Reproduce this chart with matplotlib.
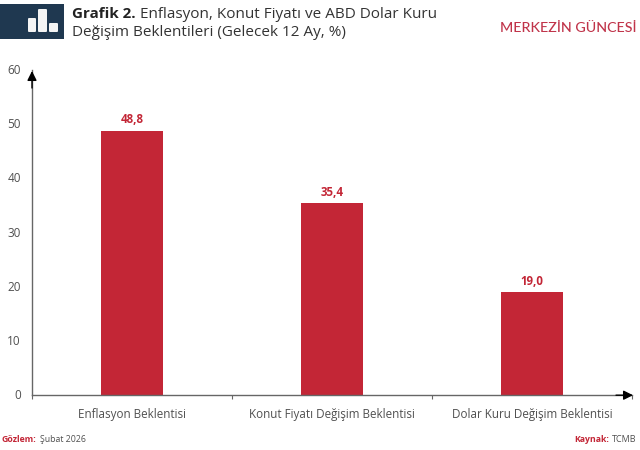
import matplotlib
matplotlib.use("Agg")
import matplotlib.pyplot as plt
from matplotlib.patches import Rectangle, FancyBboxPatch
from matplotlib.transforms import ScaledTranslation

categories = ["Enflasyon Beklentisi", "Konut Fiyatı Değişim Beklentisi", "Dolar Kuru Değişim Beklentisi"]
values = [48.8, 35.4, 19.0]
value_labels = ["48,8", "35,4", "19,0"]
yticks = [0, 10, 20, 30, 40, 50, 60]

W, H = 640, 450
plt.rcParams['font.family'] = ['Open Sans', 'DejaVu Sans']
RED = '#c32636'
GREY = '#505050'
NAVY = '#1f3850'

fig = plt.figure(figsize=(W/100, H/100), dpi=100, facecolor='white')
ax = fig.add_axes([32/W, (H-395.2)/H, 600/W, (395.2-70)/H])
ax.set_xlim(-0.5, 2.5)
ax.set_ylim(0, 60)
ax.bar(range(3), values, width=0.31, color=RED, zorder=2)
for i, (v, t) in enumerate(zip(values, value_labels)):
    ax.annotate(t, (i, v), xytext=(0, 3.3), textcoords='offset points', ha='center', va='bottom',
                color=RED, fontsize=8.3, fontweight='bold')
for s in ('top', 'right'):
    ax.spines[s].set_visible(False)
for s in ('left', 'bottom'):
    ax.spines[s].set_color('#666666')
    ax.spines[s].set_linewidth(1.0)
ax.set_yticks(yticks)
ax.tick_params(axis='y', length=0, pad=8, labelsize=8.5, labelcolor=GREY)
for lab in ax.get_yticklabels():
    lab.set_transform(lab.get_transform() + ScaledTranslation(0, 1/100, fig.dpi_scale_trans))
ax.set_xticks([-0.5, 0.5, 1.5, 2.5])
ax.set_xticklabels([])
ax.tick_params(axis='x', which='major', length=3, color='#666666')
ax.set_xticks(range(3), minor=True)
ax.set_xticklabels(categories, minor=True)
ax.tick_params(axis='x', which='minor', length=0, pad=9, labelsize=8.4, labelcolor=GREY)
ax.annotate('', xy=(32/W, (H-71)/H), xytext=(32/W, (H-88)/H), xycoords='figure fraction',
            arrowprops=dict(arrowstyle='-|>', color='black', lw=1, mutation_scale=14, shrinkA=0, shrinkB=0))
ax.annotate('', xy=(633/W, (H-395.2)/H), xytext=(616/W, (H-395.2)/H), xycoords='figure fraction',
            arrowprops=dict(arrowstyle='-|>', color='black', lw=1, mutation_scale=14, shrinkA=0, shrinkB=0))

# header
fig.add_artist(Rectangle((0, (H-39)/H), 64/W, 35/H, transform=fig.transFigure, color=NAVY, lw=0))
for x0, y0, w, h in [(28, 32, 8, 14), (38, 32, 9, 23), (49, 32, 9, 9)]:
    fig.add_artist(FancyBboxPatch((x0/W, (H-y0)/H), w/W, h/H, boxstyle='round,pad=0,rounding_size=0.002',
                                  transform=fig.transFigure, color='#f4f4f4', lw=0))
fig.text(72/W, (H-14)/H, 'Grafik 2.', fontsize=10.9, fontweight='bold', color='#222222', va='center')
fig.text(140/W, (H-14)/H, 'Enflasyon, Konut Fiyatı ve ABD Dolar Kuru', fontsize=10.95, color='#333333', va='center')
fig.text(72/W, (H-32)/H, 'Değişim Beklentileri (Gelecek 12 Ay, %)', fontsize=10.95, color='#333333', va='center')
fig.text(637/W, (H-28.5)/H, 'MERKEZİN GÜNCESİ', fontsize=10.3, color='#c0344a', va='center', ha='right', family=['Lato'], fontweight='medium')

# footer
fig.text(2/W, (H-439)/H, 'Gözlem:', fontsize=6.3, fontweight='bold', color=RED, va='center')
fig.text(40/W, (H-439)/H, 'Şubat 2026', fontsize=6.3, color=GREY, va='center')
fig.text(574/W, (H-440)/H, 'Kaynak:', fontsize=6.3, fontweight='bold', color=RED, va='center')
fig.text(636.5/W, (H-440)/H, 'TCMB', fontsize=6.5, color=GREY, va='center', ha='right')
fig.savefig('out.png', dpi=100)
